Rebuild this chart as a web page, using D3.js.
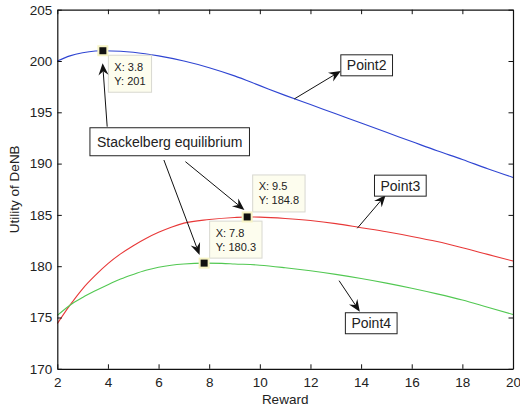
<!DOCTYPE html>
<html>
<head>
<meta charset="utf-8">
<script src="https://cdn.jsdelivr.net/npm/d3@7"></script>
<style>
  body { margin: 0; background: #fff; }
  text { font-family: "Liberation Sans", Arial, sans-serif; fill: #222; }
</style>
</head>
<body>
<div class="chart"></div>
<script>
// reward values (x) and utility of DeNB for each curve
var blueX  = [2, 2.5, 3, 3.5, 3.8, 4.5, 5, 6, 7, 8, 9, 10, 11, 12, 13, 14, 15, 16, 17, 18, 19, 20];
var blueY  = [200.0, 200.5, 200.8, 200.97, 201.0, 200.95, 200.85, 200.5, 200.0, 199.35, 198.55, 197.6, 196.65, 195.75, 194.85, 193.95, 193.05, 192.15, 191.25, 190.4, 189.5, 188.65];

var redX   = [2, 2.5, 3, 3.5, 4, 4.5, 5, 5.5, 6, 6.5, 7, 8, 9, 9.5, 10, 11, 12, 13, 14, 15, 16, 17, 18, 19, 20];
var redY   = [174.4, 176.2, 177.8, 179.1, 180.25, 181.2, 182.0, 182.7, 183.3, 183.8, 184.2, 184.55, 184.75, 184.8, 184.78, 184.65, 184.45, 184.15, 183.75, 183.35, 182.9, 182.4, 181.8, 181.15, 180.5];

var greenX = [2, 2.5, 3, 3.5, 4, 4.5, 5, 5.5, 6, 6.5, 7, 7.8, 8.5, 9, 10, 11, 12, 13, 14, 15, 16, 17, 18, 19, 20];
var greenY = [175.2, 176.2, 176.95, 177.6, 178.2, 178.75, 179.2, 179.6, 179.9, 180.1, 180.22, 180.3, 180.28, 180.22, 180.1, 179.85, 179.55, 179.2, 178.8, 178.35, 177.85, 177.3, 176.7, 176.0, 175.3];

var xTicks = [2, 4, 6, 8, 10, 12, 14, 16, 18, 20];
var yTicks = [170, 175, 180, 185, 190, 195, 200, 205];

// data tips (Stackelberg points)
var tipX = [3.8, 9.5, 7.8];
var tipY = [201, 184.8, 180.3];
var tipPlace = ["below", "above", "above"];

// text boxes with arrows (data coordinates)
var boxText = ["Stackelberg equilibrium", "Point2", "Point3", "Point4"];
var boxCx   = [6.44, 14.22, 15.55, 14.4];
var boxCy   = [192.13, 199.58, 187.85, 174.44];

var arrowFrom = [[3.97, 193.6], [7.06, 190.19], [6.21, 190.35], [11.36, 196.3], [13.85, 183.7], [13.13, 178.59]];
var arrowTo   = [[3.79, 199.78], [9.39, 185.48], [7.62, 181.09], [13.2, 199.03], [14.97, 186.94], [13.95, 175.57]];

var width = 520, height = 410;
var plotLeft = 57.3, plotRight = 513, plotTop = 9.7, plotBottom = 368.8;

var svg = d3.select("div.chart")
    .append("svg")
    .attr("width", width)
    .attr("height", height);

var x = d3.scaleLinear().domain([2, 20]).range([plotLeft, plotRight]);
var y = d3.scaleLinear().domain([170, 205]).range([plotBottom, plotTop]);

// curves
var line = d3.line()
    .x(function(d){ return x(d[0]); })
    .y(function(d){ return y(d[1]); })
    .curve(d3.curveMonotoneX);

function drawCurve(xs, ys, color){
    svg.append("path")
        .datum(d3.zip(xs, ys))
        .attr("fill", "none")
        .attr("stroke", color)
        .attr("stroke-width", 1.1)
        .attr("d", line);
}
drawCurve(blueX, blueY, "#2f45d2");
drawCurve(redX, redY, "#e83838");
drawCurve(greenX, greenY, "#52c852");

// axes, ticks inside on all four sides
function styleAxis(g){
    g.selectAll("path").attr("stroke", "#111").attr("stroke-width", 1.2);
    g.selectAll("line").attr("stroke", "#111");
    g.selectAll("text").style("font-size", "13.5px").attr("fill", "#222")
        .style("font-family", "'Liberation Sans', Arial, sans-serif");
}
svg.append("g")
    .attr("transform", "translate(0," + plotBottom + ")")
    .call(d3.axisBottom(x).tickValues(xTicks).tickSizeInner(-4.5).tickSizeOuter(0).tickPadding(9))
    .call(styleAxis);
svg.append("g")
    .attr("transform", "translate(" + plotLeft + ",0)")
    .call(d3.axisLeft(y).tickValues(yTicks).tickSizeInner(-4.5).tickSizeOuter(0).tickPadding(5))
    .call(styleAxis);
svg.append("g")
    .attr("transform", "translate(0," + plotTop + ")")
    .call(d3.axisTop(x).tickValues(xTicks).tickSizeInner(-4.5).tickSizeOuter(0).tickFormat(""))
    .call(styleAxis);
svg.append("g")
    .attr("transform", "translate(" + plotRight + ",0)")
    .call(d3.axisRight(y).tickValues(yTicks).tickSizeInner(-4.5).tickSizeOuter(0).tickFormat(""))
    .call(styleAxis);

// axis titles
svg.append("text")
    .attr("x", (plotLeft + plotRight) / 2)
    .attr("y", 404)
    .attr("text-anchor", "middle")
    .style("font-size", "13.5px")
    .text("Reward");
svg.append("text")
    .attr("transform", "translate(19," + ((plotTop + plotBottom) / 2) + ") rotate(-90)")
    .attr("text-anchor", "middle")
    .style("font-size", "13.5px")
    .text("Utility of DeNB");

// data tip boxes
tipX.forEach(function(tx, i){
    var px = x(tx), py = y(tipY[i]);
    var g = svg.append("g");
    var rect = g.append("rect")
        .attr("fill", "#fdfdee")
        .attr("stroke", "#d8d8d0")
        .attr("stroke-width", 1);
    var bx = px + 5.5;
    var by = tipPlace[i] == "below" ? py + 4.5 : py - 42;
    var t1 = g.append("text").attr("x", bx + 6).attr("y", by + 15.5)
        .style("font-size", "11px").text("X: " + tx);
    var t2 = g.append("text").attr("x", bx + 6).attr("y", by + 29.5)
        .style("font-size", "11px").text("Y: " + tipY[i]);
    var w = Math.max(t1.node().getComputedTextLength(), t2.node().getComputedTextLength()) + 12;
    rect.attr("x", bx).attr("y", by).attr("width", w).attr("height", 37);
});

// tip markers
svg.selectAll(".marker")
    .data(d3.zip(tipX, tipY))
    .enter()
    .append("rect")
    .attr("class", "marker")
    .attr("x", function(d){ return x(d[0]) - 4.5; })
    .attr("y", function(d){ return y(d[1]) - 4.5; })
    .attr("width", 9)
    .attr("height", 9)
    .attr("fill", "#111")
    .attr("stroke", "#f6f3c4")
    .attr("stroke-width", 2);

// arrows with filled heads
arrowFrom.forEach(function(f, i){
    var x1 = x(f[0]), y1 = y(f[1]);
    var x2 = x(arrowTo[i][0]), y2 = y(arrowTo[i][1]);
    var dx = x2 - x1, dy = y2 - y1, len = Math.sqrt(dx * dx + dy * dy);
    var ux = dx / len, uy = dy / len, nx = -uy, ny = ux;
    var L = 12, W = 5, notch = 8;
    var bxp = x2 - L * ux, byp = y2 - L * uy;
    var mx = x2 - notch * ux, my = y2 - notch * uy;
    svg.append("line")
        .attr("x1", x1).attr("y1", y1).attr("x2", mx).attr("y2", my)
        .attr("stroke", "#111").attr("stroke-width", 1);
    svg.append("path")
        .attr("d", "M" + x2 + "," + y2 +
            "L" + (bxp + W * nx) + "," + (byp + W * ny) +
            "L" + mx + "," + my +
            "L" + (bxp - W * nx) + "," + (byp - W * ny) + "Z")
        .attr("fill", "#111");
});

// text boxes
boxText.forEach(function(s, i){
    var g = svg.append("g");
    var rect = g.append("rect").attr("fill", "#fff").attr("stroke", "#222").attr("stroke-width", 1);
    var t = g.append("text")
        .attr("x", x(boxCx[i]))
        .attr("y", y(boxCy[i]) + 5)
        .attr("text-anchor", "middle")
        .style("font-size", "14px")
        .text(s);
    var w = t.node().getComputedTextLength() + (i == 0 ? 14 : 12);
    var h = i == 0 ? 28 : 21;
    rect.attr("x", x(boxCx[i]) - w / 2)
        .attr("y", y(boxCy[i]) - h / 2)
        .attr("width", w)
        .attr("height", h);
});
</script>
</body>
</html>
